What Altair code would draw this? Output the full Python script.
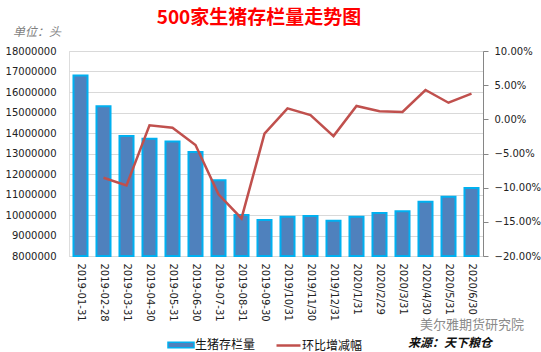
import altair as alt
import pandas as pd

dates = ["2019-01-31", "2019-02-28", "2019-03-31", "2019-04-30", "2019-05-31",
         "2019-06-30", "2019-07-31", "2019-08-31", "2019-09-30", "2019/10/31",
         "2019/11/30", "2019/12/31", "2020/1/31", "2020/2/29", "2020/3/31",
         "2020/4/30", "2020/5/31", "2020/6/30"]
stock = [16800000, 15300000, 13850000, 13720000, 13580000, 13070000, 11700000,
         10000000, 9760000, 9920000, 9950000, 9720000, 9920000, 10100000,
         10180000, 10650000, 10890000, 11320000]
mom = [None, -0.0855, -0.0967, -0.0088, -0.0122, -0.0376, -0.1098, -0.145,
       -0.021, 0.016, 0.0063, -0.0245, 0.0195, 0.012, 0.0107, 0.0429,
       0.0243, 0.0375]

bar_name = "生猪存栏量"
line_name = "环比增减幅"
title_text = "500家生猪存栏量走势图"
unit_text = "单位：头"
source_text = "来源：天下粮仓"
mark_text = "美尔雅期货研究院"

df = pd.DataFrame({"date": dates, "stock": stock, "mom": mom,
                   "s1": bar_name, "s2": line_name})

FONT = "DejaVu Sans"
CJK = "Noto Sans CJK SC"

x_enc = alt.X("date:N", sort=None, title=None,
              scale=alt.Scale(paddingInner=0.39, paddingOuter=0.195),
              axis=alt.Axis(labelAngle=90, labelFont=FONT, labelFontSize=10,
                            labelColor="#222222", labelPadding=7, ticks=False,
                            domainColor="#D9D9D9", grid=False))

bars = alt.Chart(df).mark_bar(stroke="#00B0F0", strokeWidth=2).encode(
    x=x_enc,
    y=alt.Y("stock:Q", title=None,
            scale=alt.Scale(domain=[8000000, 18000000], zero=False, nice=False),
            axis=alt.Axis(values=list(range(8000000, 18000001, 1000000)),
                          format="d", labelFont=FONT, labelFontSize=10,
                          labelColor="#222222", labelPadding=13, ticks=False,
                          domain=False, gridColor="#D9D9D9")),
    y2=alt.datum(8000000),
    fill=alt.Fill("s1:N", title=None,
                  scale=alt.Scale(domain=[bar_name], range=["#4F81BD"]),
                  legend=alt.Legend(orient="none", legendX=98, legendY=280,
                                    padding=0, title=None,
                                    symbolType="M-1,-0.22H1V0.22H-1Z",
                                    symbolSize=676, symbolStrokeColor="#00B0F0",
                                    symbolStrokeWidth=1.5, symbolOpacity=1,
                                    labelFont=CJK, labelFontSize=12,
                                    labelColor="#111111", labelOffset=0)),
)

line = alt.Chart(df).mark_line(strokeWidth=2.5).encode(
    x=alt.X("date:N", sort=None),
    y=alt.Y("mom:Q", title=None,
            scale=alt.Scale(domain=[-0.2, 0.1], nice=False),
            axis=alt.Axis(orient="right", format=".2%",
                          values=[-0.2, -0.15, -0.1, -0.05, 0, 0.05, 0.1],
                          labelFont=FONT, labelFontSize=10, labelColor="#222222",
                          labelPadding=6, tickSize=5, tickColor="#868686",
                          domainColor="#868686", grid=False)),
    stroke=alt.Stroke("s2:N", title=None,
                      scale=alt.Scale(domain=[line_name], range=["#C0504D"]),
                      legend=alt.Legend(orient="none", legendX=206, legendY=281,
                                        padding=0, title=None, symbolType="stroke",
                                        symbolSize=576, symbolStrokeWidth=2.5,
                                        labelFont=CJK, labelFontSize=12,
                                        labelColor="#111111", labelOffset=0)),
)

def label(text, x, y, **kw):
    return alt.Chart(pd.DataFrame({"t": [text]})).mark_text(**kw).encode(
        text="t:N", x=alt.value(x), y=alt.value(y))

title = label(title_text, 190, -33, font=CJK, fontSize=19, fontWeight="bold",
              color="#FF0000", align="center", baseline="middle")
unit = label(unit_text, -56, -19, font=CJK, fontSize=12, fontStyle="italic",
             color="#7F7F7F", align="left", baseline="middle")
source = label(source_text, 339, 292, font=CJK, fontSize=12, fontStyle="italic",
               fontWeight="bold", color="#111111", align="left", baseline="middle")
wm = label(mark_text, 351, 274, font=CJK, fontSize=13, color="#8A8A8A",
           align="left", baseline="middle")

chart = alt.layer(bars, line, title, unit, source, wm).resolve_scale(
    y="independent", fill="independent", stroke="independent"
).properties(
    width=414, height=205,
    autosize=alt.AutoSizeParams(type="none"),
    padding={"left": 69, "top": 51, "right": 58, "bottom": 96},
).configure_view(stroke=None).configure(background="white")

chart.save("out.html", embed_options={"renderer": "svg", "actions": False})
